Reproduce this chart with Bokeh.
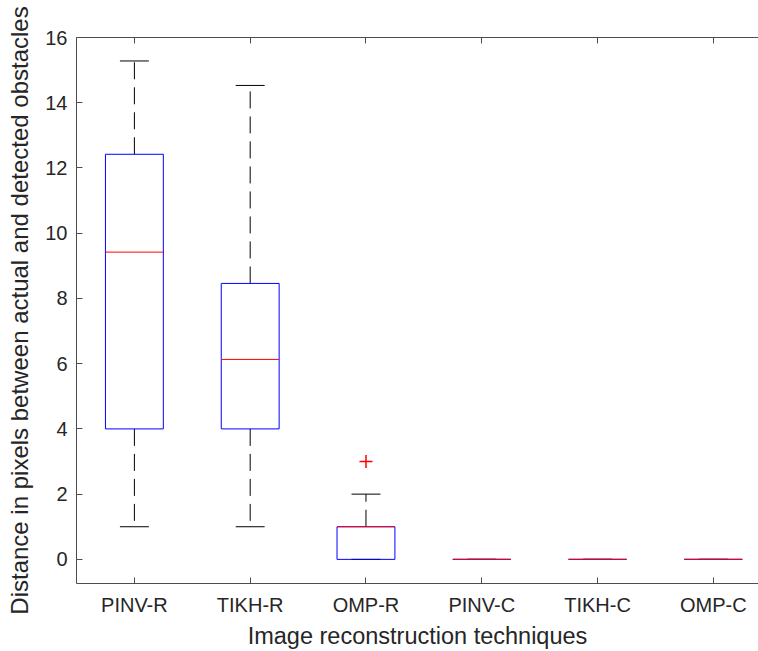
from bokeh.plotting import figure
from bokeh.models import LinearAxis, FixedTicker, Range1d
from bokeh.embed import file_html
from bokeh.resources import INLINE

# ---- data ----
categories = ["PINV-R", "TIKH-R", "OMP-R", "PINV-C", "TIKH-C", "OMP-C"]
q1 = [4, 4, 0, 0, 0, 0]
medians = [9.42, 6.13, 1, 0, 0, 0]
q3 = [12.42, 8.46, 1, 0, 0, 0]
whisker_low = [1, 1, 0, 0, 0, 0]
whisker_high = [15.28, 14.53, 2, 0, 0, 0]
outlier_cat = ["OMP-R"]
outlier_val = [3]
y_ticks = [0, 2, 4, 6, 8, 10, 12, 14, 16]

positions = [i + 1 for i in range(len(categories))]
pos_of = dict(zip(categories, positions))
box_half = 0.25
cap_half = 0.125

FONT = "Liberation Sans"
TXT = "#262626"
AX = "#4d4d4d"

p = figure(width=758, height=651, output_backend="svg", toolbar_location=None,
           x_range=Range1d(0.5, 6.39), y_range=Range1d(-0.74, 16),
           min_border_left=76, min_border_top=37, min_border_right=0,
           min_border_bottom=68)
p.outline_line_color = None
p.xgrid.visible = False
p.ygrid.visible = False
p.background_fill_color = "white"
p.border_fill_color = "white"

# whiskers (dashed), starting at the box edges
p.segment(x0=positions, y0=q3, x1=positions, y1=whisker_high,
          line_color="black", line_width=1, line_dash="17 8")
p.segment(x0=positions, y0=q1, x1=positions, y1=whisker_low,
          line_color="black", line_width=1, line_dash="17 8")
# caps
p.segment(x0=[x - cap_half for x in positions], y0=whisker_high,
          x1=[x + cap_half for x in positions], y1=whisker_high,
          line_color="black", line_width=1)
p.segment(x0=[x - cap_half for x in positions], y0=whisker_low,
          x1=[x + cap_half for x in positions], y1=whisker_low,
          line_color="black", line_width=1)
# boxes
p.quad(left=[x - box_half for x in positions], right=[x + box_half for x in positions],
       bottom=q1, top=q3, fill_color=None, line_color="#0000ff", line_width=1)
# medians
p.segment(x0=[x - box_half for x in positions], y0=medians,
          x1=[x + box_half for x in positions], y1=medians,
          line_color="#ff0000", line_width=1)
# outliers
p.scatter(x=[pos_of[c] for c in outlier_cat], y=outlier_val, marker="cross",
          size=13, line_color="#ff0000", line_width=1.5)

# axes
xa = p.xaxis[0]
xa.ticker = FixedTicker(ticks=positions)
xa.major_label_overrides = {x: c for x, c in zip(positions, categories)}
xa.axis_label = "Image reconstruction techniques"
ya = p.yaxis[0]
ya.ticker = FixedTicker(ticks=y_ticks)
ya.axis_label = "Distance in pixels between actual and detected obstacles"

for ax in (xa, ya):
    ax.axis_line_color = AX
    ax.major_tick_line_color = AX
    ax.major_tick_in = 6
    ax.major_tick_out = 0
    ax.minor_tick_line_color = None
    ax.major_label_text_font = FONT
    ax.major_label_text_font_size = "20px"
    ax.major_label_text_color = TXT
    ax.axis_label_text_font = FONT
    ax.axis_label_text_font_style = "normal"
    ax.axis_label_text_color = TXT
xa.axis_label_text_font_size = "23.5px"
ya.axis_label_text_font_size = "24px"
xa.major_label_standoff = 10
xa.axis_label_standoff = 4
ya.major_label_standoff = 9
ya.axis_label_standoff = 9

top = LinearAxis(ticker=FixedTicker(ticks=positions))
top.axis_line_color = AX
top.major_tick_line_color = AX
top.major_tick_in = 6
top.major_tick_out = 0
top.minor_tick_line_color = None
top.major_label_overrides = {x: "" for x in positions}
top.major_label_standoff = 0
p.add_layout(top, "above")

open("out.html", "w").write(file_html(p, INLINE))
